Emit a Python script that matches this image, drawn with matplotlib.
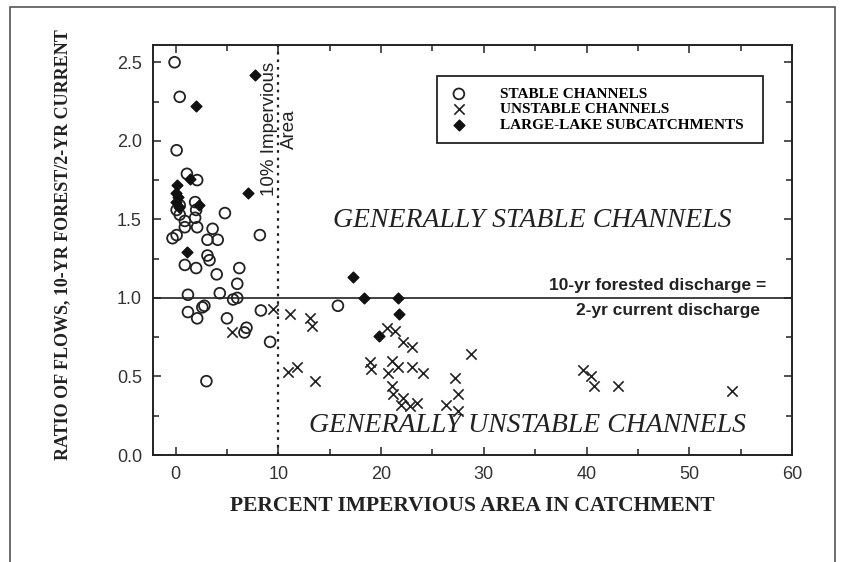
import matplotlib.pyplot as plt
from matplotlib.patches import Rectangle
from matplotlib.ticker import MultipleLocator

# stable channels (open circles)
stable_x = [-0.1, 0.4, 0.1, 1.1, 2.1, 1.9, 2.0, 1.9, 2.1, 4.8, 8.2, 0.1, 0.4, 0.9, 0.1,
            -0.3, 0.9, 3.6, 3.1, 4.1, 3.1, 3.3, 0.9, 2.0, 6.2, 4.0, 6.0, 1.2, 4.3, 5.6,
            6.0, 2.8, 1.2, 2.1, 5.0, 6.7, 6.9, 8.3, 9.2, 3.0, 15.8, 2.6, 0.4]
stable_y = [2.50, 2.28, 1.94, 1.79, 1.75, 1.61, 1.56, 1.51, 1.45, 1.54, 1.40, 1.56, 1.53, 1.49, 1.40,
            1.38, 1.45, 1.44, 1.37, 1.37, 1.27, 1.24, 1.21, 1.19, 1.19, 1.15, 1.09, 1.02, 1.03, 0.99,
            1.00, 0.95, 0.91, 0.87, 0.87, 0.78, 0.81, 0.92, 0.72, 0.47, 0.95, 0.94, 1.59]

# unstable channels (crosses)
unstable_x = [5.5, 9.5, 11.1, 13.1, 13.3, 10.9, 11.8, 13.6, 18.9, 19.0, 20.6, 21.4, 22.1, 23.0,
              21.1, 21.6, 20.7, 23.0, 24.1, 28.8, 21.1, 21.2, 22.1, 21.9, 22.8, 23.5, 27.2, 27.5,
              26.3, 27.5, 39.7, 40.4, 40.7, 43.1, 54.2]
unstable_y = [0.78, 0.93, 0.90, 0.87, 0.82, 0.53, 0.56, 0.47, 0.59, 0.55, 0.81, 0.79, 0.72, 0.69,
              0.60, 0.56, 0.52, 0.56, 0.52, 0.64, 0.44, 0.39, 0.36, 0.32, 0.31, 0.33, 0.49, 0.39,
              0.32, 0.28, 0.54, 0.50, 0.44, 0.44, 0.41]

# large-lake subcatchments (filled diamonds)
lake_x = [7.7, 2.0, 1.4, 7.0, 0.1, 0.0, 0.2, 0.0, 0.3, 2.3, 1.1, 17.3, 18.3, 21.6, 21.7, 19.8]
lake_y = [2.42, 2.22, 1.76, 1.67, 1.72, 1.67, 1.64, 1.61, 1.58, 1.59, 1.29, 1.13, 1.00, 1.00, 0.90, 0.76]

x_ticks = [0, 10, 20, 30, 40, 50, 60]
y_ticks = [0.0, 0.5, 1.0, 1.5, 2.0, 2.5]

serif = 'Liberation Serif'
sans = 'Liberation Sans'

fig = plt.figure(figsize=(8.44, 5.62), dpi=100)
ax = fig.add_axes([153 / 844, 1 - 455 / 562, (792 - 153) / 844, (455 - 45) / 562])

ax.scatter(stable_x, stable_y, s=60, facecolors='none', edgecolors='#222222',
           linewidths=1.3, label='STABLE CHANNELS', zorder=3)
ax.scatter(unstable_x, unstable_y, s=55, marker='x', color='#222222',
           linewidths=1.2, label='UNSTABLE CHANNELS', zorder=3)
ax.scatter(lake_x, lake_y, s=30, marker='D', color='#111111',
           label='LARGE-LAKE SUBCATCHMENTS', zorder=4)

ax.axhline(1.0, color='#222222', lw=1.2, zorder=2)
ax.axvline(10, color='#222222', lw=1.6, ls=(0, (1.2, 2.2)), zorder=2)

ax.set_xlim(-2.2, 60)
ax.set_ylim(0, 2.61)
ax.set_xticks(x_ticks)
ax.set_yticks(y_ticks)
ax.set_yticklabels([f'{v:.1f}' for v in y_ticks])
ax.xaxis.set_minor_locator(MultipleLocator(5))
ax.yaxis.set_minor_locator(MultipleLocator(0.25))
ax.tick_params(which='both', direction='in', top=True, right=True, width=1.1,
               colors='#222222', labelcolor='#333333', labelsize=13, pad=8)
ax.tick_params(which='major', length=6)
ax.tick_params(which='minor', length=4)
for lab in ax.get_xticklabels() + ax.get_yticklabels():
    lab.set_family(sans)
for sp in ax.spines.values():
    sp.set_linewidth(1.4)
    sp.set_color('#222222')

ax.set_xlabel('PERCENT IMPERVIOUS AREA IN CATCHMENT', fontfamily=serif,
              fontsize=15.5, fontweight='bold', color='#222222')
ax.xaxis.set_label_coords(0.5, -0.100)
ax.set_ylabel('RATIO OF FLOWS, 10-YR FOREST/2-YR CURRENT', fontfamily=serif,
              fontsize=13, fontweight='bold', color='#222222')
ax.yaxis.set_label_coords(-0.128, 0.512)

ax.text(34.7, 1.49, 'GENERALLY STABLE CHANNELS', fontfamily=serif, style='italic',
        fontsize=20, ha='center', va='center', color='#222222')
ax.text(34.3, 0.19, 'GENERALLY UNSTABLE CHANNELS', fontfamily=serif, style='italic',
        fontsize=20, ha='center', va='center', color='#222222')
ax.text(57.5, 1.03, '10-yr forested discharge =', fontfamily=sans, fontweight='bold',
        fontsize=12.5, ha='right', va='bottom', color='#222222')
ax.text(56.9, 0.97, '2-yr current discharge', fontfamily=sans, fontweight='bold',
        fontsize=12.5, ha='right', va='top', color='#222222')
ax.text(10.1, 2.50, '10% Impervious\nArea', fontfamily=sans, fontsize=13.5, rotation=90,
        ha='center', va='top', multialignment='center', color='#222222', linespacing=1.2)

leg = ax.legend(loc='upper left', bbox_to_anchor=(0.444, 0.5, 0.510, 0.425), mode='expand',
                borderaxespad=0, frameon=True, fancybox=False, edgecolor='#222222',
                framealpha=1, prop={'family': serif, 'size': 11, 'weight': 'bold'},
                handletextpad=2.0, labelspacing=0.12, borderpad=0.75, handlelength=1.4)
leg.get_frame().set_linewidth(1.3)

fig.patches.append(Rectangle((10 / 844, -0.1), 825 / 844, 1.1 - 7 / 562,
                             transform=fig.transFigure, fill=False,
                             edgecolor='#555555', lw=1.2))

fig.savefig('out.png', dpi=100)
